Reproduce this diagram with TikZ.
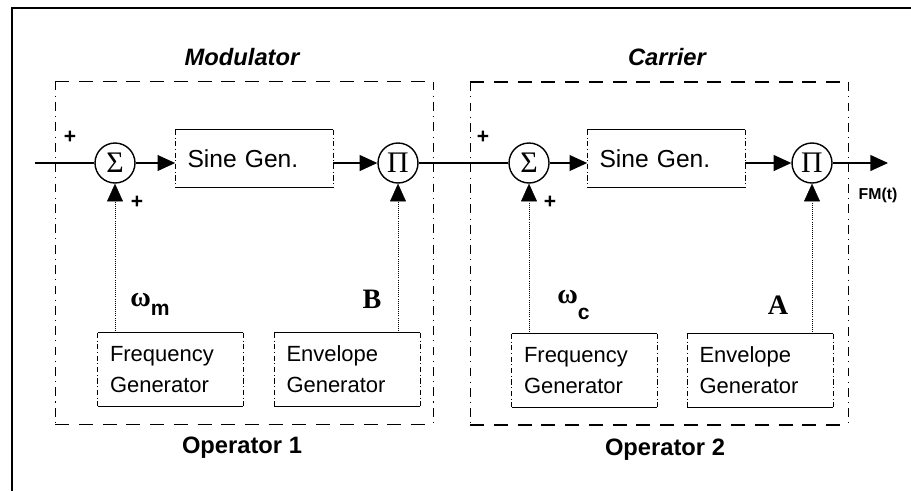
\documentclass[tikz,border=0pt]{standalone}
\usepackage{fontspec}
\setmainfont{Liberation Sans}
\newfontfamily\greekserif{Liberation Serif}
\usetikzlibrary{arrows.meta}

\begin{document}
\begin{tikzpicture}[
  x=0.02cm, y=-0.02cm,
  font=\fontsize{12.5}{17.5}\selectfont,
  >={Triangle[length=10pt, width=9pt]},
  junction/.style={circle, draw, line width=0.8pt, minimum size=0.8cm, inner sep=0pt,
                   font=\greekserif\fontsize{17}{17}\selectfont},
  genbox/.style={minimum height=1.46cm, text width=2.42cm, inner xsep=0.24cm, align=left},
  sinebox/.style={minimum height=1.14cm, text width=2.66cm, inner xsep=0.24cm, align=left,
                  font=\fontsize{14}{17}\selectfont},
  opframe/.style={minimum width=7.54cm, minimum height=6.84cm, inner sep=0pt},
  sig/.style={draw, line width=0.8pt},
  arr/.style={draw, line width=0.8pt, ->},
  feed/.style={draw, very thin, densely dotted, ->},
  sign/.style={font=\bfseries\fontsize{12}{12}\selectfont},
  title/.style={font=\bfseries\itshape\fontsize{13.5}{13.5}\selectfont},
  opname/.style={font=\bfseries\fontsize{13.5}{13.5}\selectfont},
  param/.style={font=\greekserif\bfseries\fontsize{16}{16}\selectfont}
]
\useasboundingbox (0,0) rectangle (911,491);

% outer frame: only its left and top edges show
\draw[line width=1.6pt] (12,491) -- (12,8) -- (911,8);

% operator frames
\node[opframe] (op1) at (244,253) {};
\node[opframe] (op2) at (659,253.5) {};

% junctions
\node[junction] (s1) at (115,163) {Σ};
\node[junction] (p1) at (398,163) {Π};
\node[junction] (s2) at (529,163) {Σ};
\node[junction] (p2) at (812,163) {Π};

% blocks
\node[sinebox] (sg1) at (254,158.5) {Sine Gen.};
\node[sinebox] (sg2) at (666,158.5) {Sine Gen.};
\node[genbox] (fg1) at (170.5,369.5) {Frequency\\Generator};
\node[genbox] (eg1) at (347,369.5)   {Envelope\\Generator};
\node[genbox] (fg2) at (584.5,370.5) {Frequency\\Generator};
\node[genbox] (eg2) at (760,370.5)   {Envelope\\Generator};

% block outlines: solid top and bottom, broken sides
\foreach \b in {sg1,sg2,fg1,eg1,fg2,eg2} {
  \draw[line width=0.7pt] (\b.north west) -- (\b.north east) (\b.south west) -- (\b.south east);
  \draw[very thin, dash pattern=on 3pt off 1.5pt on 0.5pt off 1.5pt]
    (\b.north west) -- (\b.south west) (\b.north east) -- (\b.south east);
}
\foreach \f in {op1,op2} {
  \draw[line width=0.8pt, dash pattern=on 8pt off 5.5pt]
    (\f.north west) -- (\f.north east) (\f.south west) -- (\f.south east);
  \draw[very thin, dash pattern=on 5pt off 3pt on 0.6pt off 3pt]
    (\f.north west) -- (\f.south west) (\f.north east) -- (\f.south east);
}

% signal path
\coordinate (in) at (35,163);
\coordinate (out) at (888,163);
\draw[sig] (in) -- (s1);
\draw[arr] (s1) -- (s1 -| sg1.west);
\draw[arr] (sg1.east |- p1) -- (p1);
\draw[sig] (p1) -- (s2);
\draw[arr] (s2) -- (s2 -| sg2.west);
\draw[arr] (sg2.east |- p2) -- (p2);
\draw[arr] (p2) -- (out);

% control inputs
\draw[feed] (fg1.north -| s1) -- (s1);
\draw[feed] (eg1.north -| p1) -- (p1);
\draw[feed] (fg2.north -| s2) -- (s2);
\draw[feed] (eg2.north -| p2) -- (p2);

% labels
\node[title] (modlbl) at (242,57) {Modulator};
\node[title] (carlbl) at (667,57) {Carrier};
\node[opname] (op1lbl) at (242,448) {Operator 1};
\node[opname] (op2lbl) at (665,450) {Operator 2};
\node[sign] (pl1) at (70,137) {+};
\node[sign] (pl2) at (137,202) {+};
\node[sign] (pl3) at (483,137) {+};
\node[sign] (pl4) at (550,202) {+};
\node[font=\bfseries\fontsize{9}{9}\selectfont] (fmlbl) at (878,195) {FM(t)};
\node[param, anchor=base west, inner sep=0pt] (wm) at (130,306)
  {ω\raisebox{-0.7ex}{\normalfont\bfseries\fontsize{12}{12}\selectfont m}};
\node[param, anchor=base west, inner sep=0pt] (wc) at (557,303)
  {ω\raisebox{-1.3ex}{\normalfont\bfseries\fontsize{12}{12}\selectfont c}};
\node[param] (blbl) at (372,299) {B};
\node[param] (albl) at (778,305) {A};
\end{tikzpicture}
\end{document}
